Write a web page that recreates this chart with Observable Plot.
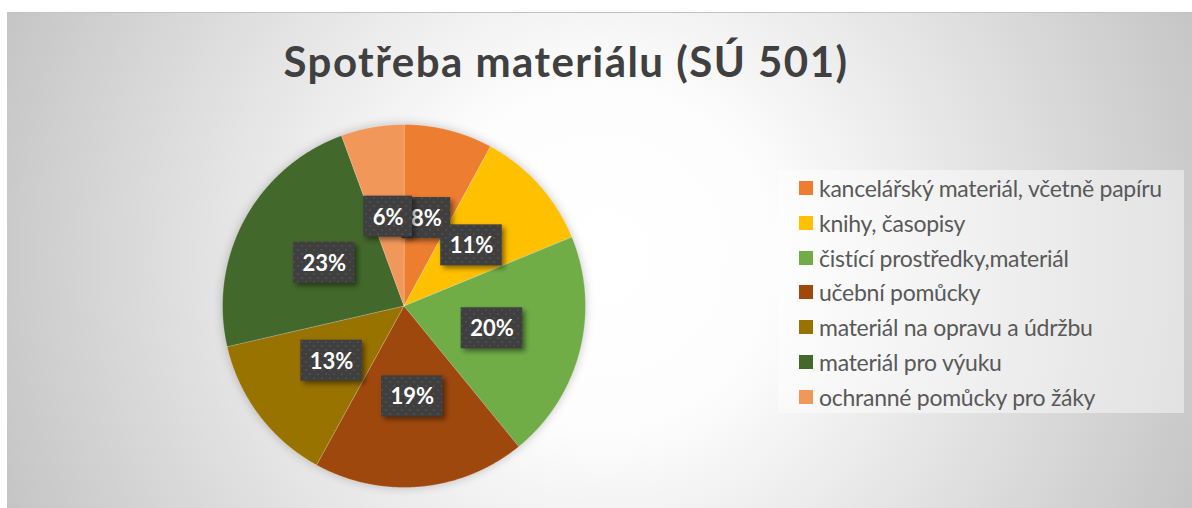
<!DOCTYPE html>
<html>
<head>
<meta charset="utf-8">
<script src="https://cdn.jsdelivr.net/npm/d3@7"></script>
<script src="https://cdn.jsdelivr.net/npm/@observablehq/plot@0.6"></script>
<style>
html,body{margin:0;padding:0;background:#fff;width:1192px;height:508px;overflow:hidden;font-family:Lato,"Open Sans",sans-serif}
#frame{position:absolute;left:7px;top:12px;width:1185px;height:496px;border-top:1px solid #c3c3c3;
  background:radial-gradient(circle 660px at 595px 245px, #ffffff 0%, #fdfdfd 26%, #c3c3c3 100%);}
#chart{position:absolute;left:0;top:0}
#title{position:absolute;top:40px;left:0;width:1132px;text-align:center;font-family:Lato;font-weight:bold;font-size:42px;line-height:42px;color:#404040;white-space:nowrap}
#legend{position:absolute;left:778px;top:170px;width:406px;height:243px;background:rgba(255,255,255,0.45)}
.item{position:absolute;left:21px;height:24px;font-family:Lato;font-size:23px;color:#595959;display:flex;align-items:center;white-space:nowrap}
.sw{width:14px;height:14px;margin-right:6px;flex:none}
</style>
</head>
<body>
<svg width="0" height="0" style="position:absolute">
  <defs>
    <pattern id="dots" width="8" height="8" patternUnits="userSpaceOnUse">
      <rect width="8" height="8" fill="#3f3f3f"/>
      <rect x="1" y="1" width="2" height="2" fill="#4c4c4c"/>
      <rect x="5" y="5" width="2" height="2" fill="#4c4c4c"/>
    </pattern>
  </defs>
</svg>
<div id="frame"></div>
<div id="chart"></div>
<div id="title"></div>
<div id="legend"></div>
<script>
const title = "Spotřeba materiálu (SÚ 501)";
const categories = [
  "kancelářský materiál, včetně papíru",
  "knihy, časopisy",
  "čistící prostředky,materiál",
  "učební pomůcky",
  "materiál na opravu a údržbu",
  "materiál pro výuku",
  "ochranné pomůcky pro žáky"
];
const values = [7.9, 10.9, 20.3, 18.9, 13.4, 23.0, 5.6];
const colors = ["#ED7D31", "#FFC000", "#70AD47", "#9E480E", "#997300", "#43682B", "#F1975A"];

// layout
const cx = 403.5, cy = 305.5, R = 181.5;
const boxH = 41, boxPad = 9;
const titleWidth = 565, legendTextWidth = 344;

const ctx = document.createElement("canvas").getContext("2d");
function spacing(text, font, target) {
  ctx.font = font;
  return (target - ctx.measureText(text).width) / text.length;
}

const titleEl = document.getElementById("title");
titleEl.textContent = title;
titleEl.style.letterSpacing = spacing(title, "bold 42px Lato", titleWidth) + "px";

const rows = categories.map((name, i) => ({name, value: values[i]}));
const total = d3.sum(values);
const arcs = d3.pie().sort(null).value(d => d.value)(rows);

const pts = arcs.flatMap(p => {
  const n = Math.max(2, Math.ceil((p.endAngle - p.startAngle) / 0.005));
  const out = [{name: p.data.name, x: 0, y: 0}];
  for (let k = 0; k <= n; k++) {
    const a = p.startAngle + (p.endAngle - p.startAngle) * k / n;
    out.push({name: p.data.name, x: Math.sin(a), y: Math.cos(a)});
  }
  return out;
});

ctx.font = "bold 22px Lato";
const labels = arcs.map(p => {
  const mid = (p.startAngle + p.endAngle) / 2;
  const label = Math.round(p.data.value / total * 100) + "%";
  const hw = (ctx.measureText(label).width + 2 * boxPad) / 2;
  return {label, lx: 0.5 * Math.sin(mid), ly: 0.5 * Math.cos(mid), hw};
});

const labelMarks = labels.flatMap(d => [
  Plot.rect([d], {
    x1: v => v.lx - v.hw / R, x2: v => v.lx + v.hw / R,
    y1: v => v.ly - boxH / 2 / R, y2: v => v.ly + boxH / 2 / R,
    fill: "url(#dots)"
  }),
  Plot.text([d], {x: "lx", y: "ly", text: "label", fill: "white", fontSize: 22, fontWeight: "bold", fontFamily: "Lato", dy: 1})
]);

const chart = Plot.plot({
  width: 1192,
  height: 508,
  margin: 0,
  x: {domain: [-1, 1], range: [cx - R, cx + R], axis: null},
  y: {domain: [-1, 1], range: [cy + R, cy - R], axis: null},
  color: {type: "ordinal", domain: categories, range: colors},
  style: {background: "transparent", overflow: "visible"},
  marks: [
    Plot.line(pts, {x: "x", y: "y", z: "name", fill: "name", stroke: "white", strokeOpacity: 0.3, strokeWidth: 0.8, curve: "linear-closed"}),
    ...labelMarks
  ]
});
document.getElementById("chart").appendChild(chart);
d3.select(chart).selectAll('g[aria-label="line"]').style("filter", "drop-shadow(0 0 5px rgba(0,0,0,0.22))");
d3.select(chart).selectAll('g[aria-label="rect"] rect').style("filter", "drop-shadow(3px 3px 2.5px rgba(0,0,0,0.45))");

const legendLS = spacing(categories[0], "23px Lato", legendTextWidth);
const legend = d3.select("#legend");
categories.forEach((name, i) => {
  const it = legend.append("div").attr("class", "item").style("top", (6 + i * 34.8) + "px");
  it.append("div").attr("class", "sw").style("background", colors[i]);
  it.append("span").style("letter-spacing", legendLS + "px").text(name);
});
</script>
</body>
</html>
